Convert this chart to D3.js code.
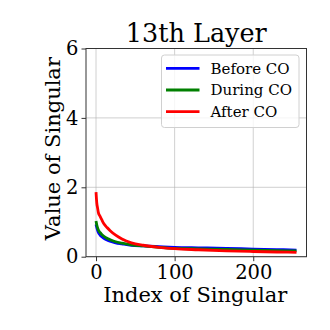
<!DOCTYPE html>
<html>
<head>
<meta charset="utf-8">
<script src="https://cdn.jsdelivr.net/npm/d3@7"></script>
<style>
	body { margin: 0; background: #fff; }
	text { font-family: "DejaVu Serif", serif; fill: #000; }
</style>
</head>
<body>
<div id="chart"></div>
<script>
const margin = { top: 48.5, right: 23.5, bottom: 73.3, left: 86 };
const width = 330;
const height = 330;

// singular values at these indices
const indices = [0, 1, 2, 3, 5, 7, 10, 14, 18, 25, 33, 45, 60, 80, 100, 130, 166, 200, 230, 255];
const beforeCO = [0.93, 0.84, 0.76, 0.70, 0.63, 0.58, 0.53, 0.48, 0.45, 0.40, 0.37, 0.33, 0.31, 0.29, 0.27, 0.255, 0.24, 0.22, 0.205, 0.19];
const duringCO = [1.03, 0.91, 0.83, 0.77, 0.70, 0.65, 0.59, 0.53, 0.49, 0.43, 0.39, 0.34, 0.31, 0.27, 0.24, 0.225, 0.21, 0.19, 0.175, 0.165];
const afterCO  = [1.86, 1.54, 1.40, 1.27, 1.17, 1.08, 0.95, 0.84, 0.75, 0.62, 0.51, 0.40, 0.33, 0.27, 0.23, 0.20, 0.17, 0.15, 0.135, 0.125];

const seriesNames = ["Before CO", "During CO", "After CO"];
const seriesColors = ["#0000ff", "#008000", "#ff0000"];
const xTicks = [0, 100, 200];
const yTicks = [0, 2, 4, 6];

const series = [beforeCO, duringCO, afterCO].map((vals, i) => ({
	name: seriesNames[i],
	color: seriesColors[i],
	points: indices.map((x, j) => ({ x, y: vals[j] }))
}));

const svg = d3.select("#chart").append("svg")
	.attr("width", width)
	.attr("height", height);

const x = d3.scaleLinear()
	.domain([-12.75, 267.75])
	.range([margin.left, width - margin.right]);

const y = d3.scaleLinear()
	.domain([0, 6])
	.range([height - margin.bottom, margin.top]);

// grid
svg.append("g")
	.selectAll("line.vg")
	.data(xTicks)
	.join("line")
	.attr("x1", d => x(d)).attr("x2", d => x(d))
	.attr("y1", margin.top).attr("y2", height - margin.bottom)
	.attr("stroke", "#b0b0b0").attr("stroke-opacity", 0.6).attr("stroke-width", 1);

svg.append("g")
	.selectAll("line.hg")
	.data(yTicks)
	.join("line")
	.attr("x1", margin.left).attr("x2", width - margin.right)
	.attr("y1", d => y(d)).attr("y2", d => y(d))
	.attr("stroke", "#b0b0b0").attr("stroke-opacity", 0.6).attr("stroke-width", 1);

// lines
const line = d3.line()
	.x(d => x(d.x))
	.y(d => y(d.y))
	.curve(d3.curveMonotoneX);

svg.append("g")
	.selectAll("path")
	.data(series)
	.join("path")
	.attr("d", d => line(d.points))
	.attr("fill", "none")
	.attr("stroke", d => d.color)
	.attr("stroke-width", 2.8)
	.attr("stroke-linejoin", "round");

// axes
svg.append("g")
	.attr("transform", `translate(0,${height - margin.bottom})`)
	.call(d3.axisBottom(x).tickValues(xTicks).tickFormat(d3.format("d")).tickSize(4.5).tickPadding(4))
	.call(g => g.select(".domain").remove())
	.call(g => g.selectAll("line").attr("stroke", "#333"))
	.call(g => g.selectAll("text").attr("font-family", "DejaVu Serif").attr("font-size", "19.5px").attr("fill", "#000"));

svg.append("g")
	.attr("transform", `translate(${margin.left},0)`)
	.call(d3.axisLeft(y).tickValues(yTicks).tickFormat(d3.format("d")).tickSize(4.5).tickPadding(3))
	.call(g => g.select(".domain").remove())
	.call(g => g.selectAll("line").attr("stroke", "#333"))
	.call(g => g.selectAll("text").attr("font-family", "DejaVu Serif").attr("font-size", "19.5px").attr("fill", "#000"));

// frame
svg.append("rect")
	.attr("x", margin.left).attr("y", margin.top)
	.attr("width", width - margin.left - margin.right)
	.attr("height", height - margin.top - margin.bottom)
	.attr("fill", "none")
	.attr("stroke", "#333")
	.attr("stroke-width", 1);

// title + labels
svg.append("text")
	.attr("x", (margin.left + width - margin.right) / 2)
	.attr("y", 42)
	.attr("text-anchor", "middle")
	.attr("font-size", "25.5px")
	.text("13th Layer");

svg.append("text")
	.attr("x", (margin.left + width - margin.right) / 2 - 1)
	.attr("y", 302)
	.attr("text-anchor", "middle")
	.attr("font-size", "21px")
	.text("Index of Singular");

svg.append("text")
	.attr("transform", `translate(60,${(margin.top + height - margin.bottom) / 2 - 4}) rotate(-90)`)
	.attr("text-anchor", "middle")
	.attr("font-size", "21px")
	.text("Value of Singular");

// legend
const legend = svg.append("g").attr("transform", "translate(161.5,55)");

legend.append("rect")
	.attr("width", 137.5).attr("height", 72.5)
	.attr("rx", 3)
	.attr("fill", "#fff").attr("fill-opacity", 0.8)
	.attr("stroke", "#d0d0d0").attr("stroke-width", 1);

const rows = legend.selectAll("g.row")
	.data(series)
	.join("g")
	.attr("transform", (d, i) => `translate(0,${13.3 + i * 21.7})`);

rows.append("line")
	.attr("x1", 4.5).attr("x2", 38)
	.attr("stroke", d => d.color).attr("stroke-width", 2.8);

rows.append("text")
	.attr("x", 49)
	.attr("dy", "0.35em")
	.attr("font-size", "15px")
	.text(d => d.name);
</script>
</body>
</html>
